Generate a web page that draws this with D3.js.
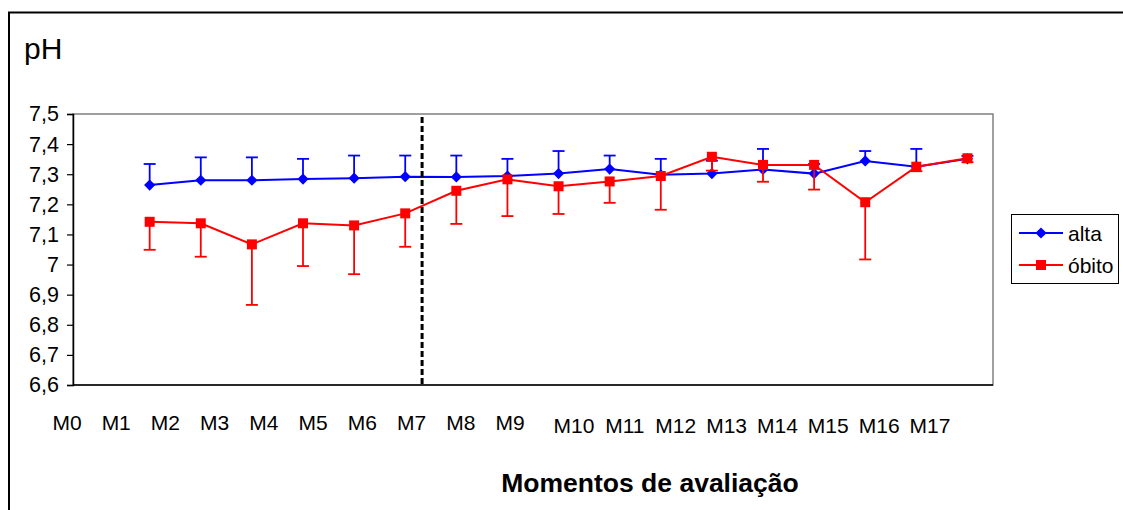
<!DOCTYPE html>
<html><head><meta charset="utf-8">
<script src="https://cdn.jsdelivr.net/npm/d3@7"></script>
<style>
body{margin:0;background:#fff}
svg{display:block}
text{font-family:"Liberation Sans",Arial,sans-serif;fill:#000}
</style>
</head><body>
<svg id="c" width="1123" height="510"></svg>
<script>
// ---- data ----
const categories = ["M0","M1","M2","M3","M4","M5","M6","M7","M8","M9","M10","M11","M12","M13","M14","M15","M16","M17"];
const dataCategories = ["M1","M2","M3","M4","M5","M6","M7","M8","M9","M10","M11","M12","M13","M14","M15","M16","M17"];
const altaMean  = [7.264,7.280,7.280,7.284,7.287,7.292,7.291,7.294,7.302,7.317,7.298,7.302,7.316,7.302,7.344,7.325,7.351];
const altaErr   = [0.070,0.076,0.076,0.067,0.075,0.070,0.071,0.057,0.075,0.045,0.053,0.043,0.068,0.032,0.033,0.059,0.010];
const obitoMean = [7.142,7.137,7.067,7.137,7.130,7.170,7.245,7.283,7.260,7.276,7.294,7.358,7.331,7.331,7.207,7.325,7.353];
const obitoErr  = [0.093,0.111,0.201,0.142,0.162,0.111,0.110,0.122,0.092,0.071,0.112,0.046,0.056,0.082,0.190,0.015,0.013];
const yTicks = [6.6,6.7,6.8,6.9,7.0,7.1,7.2,7.3,7.4,7.5];
const yTickLabels = ["6,6","6,7","6,8","6,9","7","7,1","7,2","7,3","7,4","7,5"];
const seriesNames = ["alta","óbito"];
const seriesColors = ["#0000FF","#FF0000"];
const yTitle = "pH";
const xTitle = "Momentos de avaliação";
const dividerAt = 6.33; // vertical dashed separator between M6 and M7

// ---- layout ----
const svg = d3.select("#c");
const plotL = 73, plotR = 993, plotT = 114, plotB = 385;

const x = d3.scaleBand().domain(categories).range([plotL, plotR]).padding(0);
const xi = d3.scaleLinear().domain([-0.5, categories.length - 0.5]).range([plotL, plotR]);
const y = d3.scaleLinear().domain([6.6, 7.5]).range([plotB, plotT]);
const cx = c => x(c) + x.bandwidth() / 2;
// category label positions (labels are offset from the category centres in the original)
const labelX = d3.scaleLinear().domain([0, 9, 10, 17]).range([67, 510, 574, 930]);

// outer frame
svg.append("rect").attr("x", 9).attr("y", 12.5).attr("width", 1130).attr("height", 520)
  .attr("fill", "none").attr("stroke", "#000").attr("stroke-width", 2);

// plot area border
svg.append("rect").attr("x", plotL).attr("y", plotT).attr("width", plotR - plotL).attr("height", plotB - plotT)
  .attr("fill", "#fff").attr("stroke", "#808080").attr("stroke-width", 1.5);

// y axis
const yAxis = d3.axisLeft(y).tickValues(yTicks).tickSize(6).tickPadding(8)
  .tickFormat((d, i) => yTickLabels[i]);
const ya = svg.append("g").attr("transform", `translate(${plotL},0)`).call(yAxis);
ya.select(".domain").attr("stroke", "#000").attr("stroke-width", 1.5);
ya.selectAll(".tick line").attr("stroke", "#000").attr("stroke-width", 1.2);
ya.selectAll(".tick text").style("font-size", "21.5px").attr("fill", "#000")
  .style("font-family", '"Liberation Sans",Arial,sans-serif');

// x axis line
svg.append("line").attr("x1", plotL).attr("x2", plotR).attr("y1", y(6.6)).attr("y2", y(6.6))
  .attr("stroke", "#000").attr("stroke-width", 1.5);

// x category labels
svg.append("g").selectAll("text").data(categories).join("text")
  .attr("x", (d, i) => labelX(i))
  .attr("y", (d, i) => i < 10 ? 430 : 433)
  .attr("text-anchor", "middle").style("font-size", "21px")
  .text(d => d);

// series drawing
function drawSeries(means, errs, color, dir, marker) {
  const pts = dataCategories.map((c, i) => ({c, v: means[i], e: errs[i]}));
  const g = svg.append("g");
  g.selectAll("line.eb").data(pts).join("line").attr("class", "eb")
    .attr("x1", d => cx(d.c)).attr("x2", d => cx(d.c))
    .attr("y1", d => y(d.v)).attr("y2", d => y(d.v + dir * d.e))
    .attr("stroke", color).attr("stroke-width", 1.8);
  g.selectAll("line.cap").data(pts).join("line").attr("class", "cap")
    .attr("x1", d => cx(d.c) - 6).attr("x2", d => cx(d.c) + 6)
    .attr("y1", d => y(d.v + dir * d.e)).attr("y2", d => y(d.v + dir * d.e))
    .attr("stroke", color).attr("stroke-width", 1.8);
  g.append("path").datum(pts)
    .attr("d", d3.line().x(d => cx(d.c)).y(d => y(d.v)))
    .attr("fill", "none").attr("stroke", color).attr("stroke-width", 2);
  if (marker === "diamond") {
    g.selectAll("path.m").data(pts).join("path").attr("class", "m")
      .attr("d", d3.symbol().type(d3.symbolDiamond2).size(80))
      .attr("transform", d => `translate(${cx(d.c)},${y(d.v)})`)
      .attr("fill", color);
  } else {
    g.selectAll("rect.m").data(pts).join("rect").attr("class", "m")
      .attr("x", d => cx(d.c) - 5).attr("y", d => y(d.v) - 5)
      .attr("width", 10).attr("height", 10).attr("fill", color);
  }
}
drawSeries(altaMean, altaErr, seriesColors[0], 1, "diamond");
drawSeries(obitoMean, obitoErr, seriesColors[1], -1, "square");

// dashed separator
svg.append("line").attr("x1", xi(dividerAt)).attr("x2", xi(dividerAt))
  .attr("y1", plotT + 3).attr("y2", plotB)
  .attr("stroke", "#000").attr("stroke-width", 3).attr("stroke-dasharray", "6,3");

// titles
svg.append("text").attr("x", 24).attr("y", 59).style("font-size", "30px").text(yTitle);
svg.append("text").attr("x", (plotL + plotR) / 2 + 117).attr("y", 492)
  .attr("text-anchor", "middle").style("font-size", "26.5px").style("font-weight", "bold").text(xTitle);

// legend
const lg = svg.append("g");
lg.append("rect").attr("x", 1011.5).attr("y", 214.5).attr("width", 107).attr("height", 69)
  .attr("fill", "#fff").attr("stroke", "#000").attr("stroke-width", 1);
seriesNames.forEach((n, i) => {
  const yy = 233 + i * 32;
  lg.append("line").attr("x1", 1019).attr("x2", 1063).attr("y1", yy).attr("y2", yy)
    .attr("stroke", seriesColors[i]).attr("stroke-width", 2);
  if (i === 0) {
    lg.append("path").attr("d", d3.symbol().type(d3.symbolDiamond2).size(80))
      .attr("transform", `translate(1041,${yy})`).attr("fill", seriesColors[i]);
  } else {
    lg.append("rect").attr("x", 1036).attr("y", yy - 5).attr("width", 10).attr("height", 10)
      .attr("fill", seriesColors[i]);
  }
  lg.append("text").attr("x", 1068).attr("y", yy + 7.5).style("font-size", "21px").text(n);
});
</script>
</body></html>
